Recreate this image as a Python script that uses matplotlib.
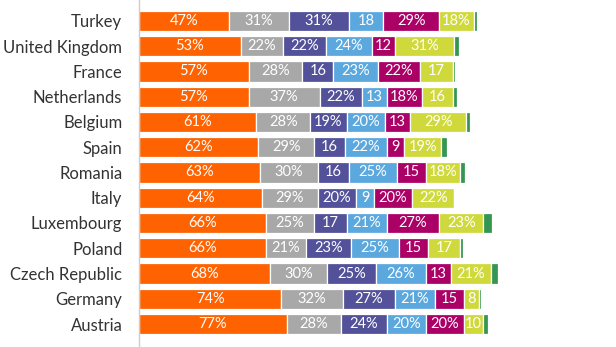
import matplotlib.pyplot as plt
import numpy as np

plt.rcParams['font.family'] = ['Lato', 'DejaVu Sans']

# countries, top to bottom
countries = ['Turkey', 'United Kingdom', 'France', 'Netherlands', 'Belgium', 'Spain',
             'Romania', 'Italy', 'Luxembourg', 'Poland', 'Czech Republic', 'Germany', 'Austria']

# stacked segment values (%)
orange = [47, 53, 57, 57, 61, 62, 63, 64, 66, 66, 68, 74, 77]
grey = [31, 22, 28, 37, 28, 29, 30, 29, 25, 21, 30, 32, 28]
purple = [31, 22, 16, 22, 19, 16, 16, 20, 17, 23, 25, 27, 24]
blue = [18, 24, 23, 13, 20, 22, 25, 9, 21, 25, 26, 21, 20]
magenta = [29, 12, 22, 18, 13, 9, 15, 20, 27, 15, 13, 15, 20]
lime = [18, 31, 17, 16, 29, 19, 18, 22, 23, 17, 21, 8, 10]
green = [1.5, 2.5, 1.5, 2.5, 2, 3, 2.5, 0, 4.5, 1.5, 3.5, 1, 2.5]

series = [orange, grey, purple, blue, magenta, lime, green]
colors = ['#FF6200', '#A8A8A8', '#525199', '#5BA8DF', '#AB0066', '#D0D93C', '#349651']
labelled = [True, True, True, True, True, True, False]

# labels printed without the percent sign
no_pct = {(0, 3)}

fig = plt.figure(figsize=(6.16, 3.47), dpi=100)
ax = fig.add_axes([139 / 616, 0, 1 - 139 / 616, 1])

y = np.arange(len(countries))
left = np.zeros(len(countries))
for si, (vals, col) in enumerate(zip(series, colors)):
    vals = np.array(vals, dtype=float)
    ax.barh(y, vals, left=left, height=0.8, color=col, edgecolor='white', linewidth=0.9)
    if labelled[si]:
        for i, v in enumerate(vals):
            txt = f'{v:.0f}' if (v < 18 or (i, si) in no_pct) else f'{v:.0f}%'
            ax.text(left[i] + v / 2, y[i], txt, ha='center', va='center',
                    color='white', fontsize=10.5)
    left += vals

ax.set_xlim(0, 248)
ax.set_ylim(12.91, -0.83)
ax.set_yticks(y)
ax.set_yticklabels(countries, fontsize=12, color='#333333')
ax.tick_params(axis='y', length=0, pad=12)
ax.set_xticks([])
for s in ['top', 'right', 'bottom']:
    ax.spines[s].set_visible(False)
ax.spines['left'].set_color('#CCCCCC')
ax.spines['left'].set_linewidth(1)

fig.savefig('out.png', dpi=100)
